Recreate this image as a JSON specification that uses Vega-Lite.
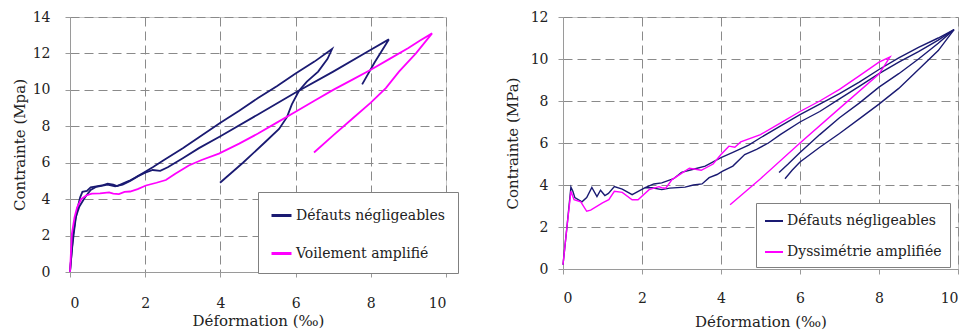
{
  "$schema": "https://vega.github.io/schema/vega-lite/v6.json",
  "padding": {"left": 11, "top": 9, "right": 0, "bottom": 0},
  "background": "white",
  "spacing": 117,
  "bounds": "flush",
  "config": {
    "font": "DejaVu Serif",
    "view": {"stroke": "#c8c8c8", "strokeWidth": 1},
    "axis": {
      "grid": true, "gridDash": [9, 5], "gridColor": "#8a8a8a", "gridOpacity": 1,
      "domainColor": "#9a9a9a", "tickColor": "#9a9a9a", "tickSize": 5,
      "labelFontSize": 14, "titleFontSize": 15, "labelColor": "#222", "titleColor": "#222",
      "titleFontWeight": "normal", "labelFont": "DejaVu Serif", "titleFont": "DejaVu Serif"
    },
    "axisX": {"labelPadding": 19, "titlePadding": 4},
    "legend": {
      "orient": "none", "strokeColor": "#808080", "fillColor": "white", "symbolType": "stroke",
      "symbolSize": 400, "symbolStrokeWidth": 2.5, "labelFontSize": 14, "labelFont": "DejaVu Serif",
      "labelColor": "#222", "labelLimit": 400, "labelOffset": 3
    }
  },
  "resolve": {"scale": {"color": "independent"}, "legend": {"color": "independent"}},
  "hconcat": [
    {
      "width": 376, "height": 255,
      "data": {"values": [
        {"s":"Défauts négligeables","g":"A","i":1,"x":0,"y":0},
        {"s":"Défauts négligeables","g":"A","i":2,"x":0.05,"y":1.2},
        {"s":"Défauts négligeables","g":"A","i":3,"x":0.1,"y":2.1},
        {"s":"Défauts négligeables","g":"A","i":4,"x":0.15,"y":2.9},
        {"s":"Défauts négligeables","g":"A","i":5,"x":0.2,"y":3.5},
        {"s":"Défauts négligeables","g":"A","i":6,"x":0.27,"y":4.1},
        {"s":"Défauts négligeables","g":"A","i":7,"x":0.33,"y":4.4},
        {"s":"Défauts négligeables","g":"A","i":8,"x":0.45,"y":4.45},
        {"s":"Défauts négligeables","g":"A","i":9,"x":0.55,"y":4.65},
        {"s":"Défauts négligeables","g":"A","i":10,"x":0.7,"y":4.7},
        {"s":"Défauts négligeables","g":"A","i":11,"x":0.85,"y":4.75},
        {"s":"Défauts négligeables","g":"A","i":12,"x":1.0,"y":4.85},
        {"s":"Défauts négligeables","g":"A","i":13,"x":1.15,"y":4.8},
        {"s":"Défauts négligeables","g":"A","i":14,"x":1.25,"y":4.72},
        {"s":"Défauts négligeables","g":"A","i":15,"x":1.4,"y":4.85},
        {"s":"Défauts négligeables","g":"A","i":16,"x":1.57,"y":5.0},
        {"s":"Défauts négligeables","g":"A","i":17,"x":1.75,"y":5.2},
        {"s":"Défauts négligeables","g":"A","i":18,"x":2.0,"y":5.5},
        {"s":"Défauts négligeables","g":"A","i":19,"x":2.2,"y":5.75},
        {"s":"Défauts négligeables","g":"A","i":20,"x":2.5,"y":6.15},
        {"s":"Défauts négligeables","g":"A","i":21,"x":3.0,"y":6.8},
        {"s":"Défauts négligeables","g":"A","i":22,"x":3.5,"y":7.5},
        {"s":"Défauts négligeables","g":"A","i":23,"x":4.0,"y":8.2},
        {"s":"Défauts négligeables","g":"A","i":24,"x":4.5,"y":8.85},
        {"s":"Défauts négligeables","g":"A","i":25,"x":5.0,"y":9.55},
        {"s":"Défauts négligeables","g":"A","i":26,"x":5.5,"y":10.2},
        {"s":"Défauts négligeables","g":"A","i":27,"x":6.0,"y":10.9},
        {"s":"Défauts négligeables","g":"A","i":28,"x":6.5,"y":11.55},
        {"s":"Défauts négligeables","g":"A","i":29,"x":6.97,"y":12.24},
        {"s":"Défauts négligeables","g":"A","i":30,"x":6.85,"y":11.7},
        {"s":"Défauts négligeables","g":"A","i":31,"x":6.6,"y":11.0},
        {"s":"Défauts négligeables","g":"A","i":32,"x":6.3,"y":10.45},
        {"s":"Défauts négligeables","g":"A","i":33,"x":6.09,"y":9.95},
        {"s":"Défauts négligeables","g":"A","i":34,"x":5.9,"y":9.2},
        {"s":"Défauts négligeables","g":"A","i":35,"x":5.77,"y":8.5},
        {"s":"Défauts négligeables","g":"A","i":36,"x":5.56,"y":7.85},
        {"s":"Défauts négligeables","g":"A","i":37,"x":5.2,"y":7.15},
        {"s":"Défauts négligeables","g":"A","i":38,"x":4.6,"y":6.0},
        {"s":"Défauts négligeables","g":"A","i":39,"x":3.99,"y":4.9},
        {"s":"Défauts négligeables","g":"B","i":1,"x":0,"y":0},
        {"s":"Défauts négligeables","g":"B","i":2,"x":0.08,"y":2.0},
        {"s":"Défauts négligeables","g":"B","i":3,"x":0.15,"y":3.0},
        {"s":"Défauts négligeables","g":"B","i":4,"x":0.25,"y":3.6},
        {"s":"Défauts négligeables","g":"B","i":5,"x":0.4,"y":4.1},
        {"s":"Défauts négligeables","g":"B","i":6,"x":0.55,"y":4.5},
        {"s":"Défauts négligeables","g":"B","i":7,"x":0.7,"y":4.68},
        {"s":"Défauts négligeables","g":"B","i":8,"x":1.0,"y":4.8},
        {"s":"Défauts négligeables","g":"B","i":9,"x":1.2,"y":4.7},
        {"s":"Défauts négligeables","g":"B","i":10,"x":1.4,"y":4.8},
        {"s":"Défauts négligeables","g":"B","i":11,"x":1.6,"y":5.0},
        {"s":"Défauts négligeables","g":"B","i":12,"x":1.8,"y":5.25},
        {"s":"Défauts négligeables","g":"B","i":13,"x":2.0,"y":5.45},
        {"s":"Défauts négligeables","g":"B","i":14,"x":2.2,"y":5.6},
        {"s":"Défauts négligeables","g":"B","i":15,"x":2.4,"y":5.55},
        {"s":"Défauts négligeables","g":"B","i":16,"x":2.6,"y":5.75},
        {"s":"Défauts négligeables","g":"B","i":17,"x":3.0,"y":6.25},
        {"s":"Défauts négligeables","g":"B","i":18,"x":3.43,"y":6.8},
        {"s":"Défauts négligeables","g":"B","i":19,"x":4.0,"y":7.45},
        {"s":"Défauts négligeables","g":"B","i":20,"x":5.0,"y":8.65},
        {"s":"Défauts négligeables","g":"B","i":21,"x":6.0,"y":9.85},
        {"s":"Défauts négligeables","g":"B","i":22,"x":7.0,"y":11.0},
        {"s":"Défauts négligeables","g":"B","i":23,"x":8.0,"y":12.2},
        {"s":"Défauts négligeables","g":"B","i":24,"x":8.48,"y":12.77},
        {"s":"Défauts négligeables","g":"B","i":25,"x":8.1,"y":11.5},
        {"s":"Défauts négligeables","g":"B","i":26,"x":7.77,"y":10.3},
        {"s":"Voilement amplifié","g":"C","i":1,"x":0,"y":0},
        {"s":"Voilement amplifié","g":"C","i":2,"x":0.05,"y":2.1},
        {"s":"Voilement amplifié","g":"C","i":3,"x":0.12,"y":3.0},
        {"s":"Voilement amplifié","g":"C","i":4,"x":0.19,"y":3.55},
        {"s":"Voilement amplifié","g":"C","i":5,"x":0.3,"y":4.0},
        {"s":"Voilement amplifié","g":"C","i":6,"x":0.43,"y":4.2},
        {"s":"Voilement amplifié","g":"C","i":7,"x":0.58,"y":4.3},
        {"s":"Voilement amplifié","g":"C","i":8,"x":0.8,"y":4.32},
        {"s":"Voilement amplifié","g":"C","i":9,"x":1.04,"y":4.37},
        {"s":"Voilement amplifié","g":"C","i":10,"x":1.15,"y":4.3},
        {"s":"Voilement amplifié","g":"C","i":11,"x":1.3,"y":4.28},
        {"s":"Voilement amplifié","g":"C","i":12,"x":1.45,"y":4.4},
        {"s":"Voilement amplifié","g":"C","i":13,"x":1.6,"y":4.42},
        {"s":"Voilement amplifié","g":"C","i":14,"x":1.8,"y":4.55},
        {"s":"Voilement amplifié","g":"C","i":15,"x":2.02,"y":4.75},
        {"s":"Voilement amplifié","g":"C","i":16,"x":2.3,"y":4.9},
        {"s":"Voilement amplifié","g":"C","i":17,"x":2.55,"y":5.05},
        {"s":"Voilement amplifié","g":"C","i":18,"x":2.8,"y":5.4},
        {"s":"Voilement amplifié","g":"C","i":19,"x":3.16,"y":5.85},
        {"s":"Voilement amplifié","g":"C","i":20,"x":3.5,"y":6.15},
        {"s":"Voilement amplifié","g":"C","i":21,"x":3.96,"y":6.5},
        {"s":"Voilement amplifié","g":"C","i":22,"x":4.5,"y":7.05},
        {"s":"Voilement amplifié","g":"C","i":23,"x":5.0,"y":7.6},
        {"s":"Voilement amplifié","g":"C","i":24,"x":5.5,"y":8.2},
        {"s":"Voilement amplifié","g":"C","i":25,"x":6.0,"y":8.8},
        {"s":"Voilement amplifié","g":"C","i":26,"x":6.5,"y":9.4},
        {"s":"Voilement amplifié","g":"C","i":27,"x":7.0,"y":10.0},
        {"s":"Voilement amplifié","g":"C","i":28,"x":7.5,"y":10.55},
        {"s":"Voilement amplifié","g":"C","i":29,"x":8.0,"y":11.1},
        {"s":"Voilement amplifié","g":"C","i":30,"x":8.5,"y":11.7},
        {"s":"Voilement amplifié","g":"C","i":31,"x":9.0,"y":12.3},
        {"s":"Voilement amplifié","g":"C","i":32,"x":9.3,"y":12.7},
        {"s":"Voilement amplifié","g":"C","i":33,"x":9.63,"y":13.1},
        {"s":"Voilement amplifié","g":"C","i":34,"x":9.2,"y":12.0},
        {"s":"Voilement amplifié","g":"C","i":35,"x":8.75,"y":11.0},
        {"s":"Voilement amplifié","g":"C","i":36,"x":8.4,"y":10.1},
        {"s":"Voilement amplifié","g":"C","i":37,"x":8.0,"y":9.3},
        {"s":"Voilement amplifié","g":"C","i":38,"x":7.5,"y":8.4},
        {"s":"Voilement amplifié","g":"C","i":39,"x":7.0,"y":7.5},
        {"s":"Voilement amplifié","g":"C","i":40,"x":6.49,"y":6.56}
      ]},
      "mark": {"type": "line", "strokeWidth": 1.8},
      "encoding": {
        "x": {"field": "x", "type": "quantitative", "scale": {"domain": [0, 10], "nice": false},
              "axis": {"values": [0, 2, 4, 6, 8, 10], "title": "Déformation (‰)", "titlePadding": 3}},
        "y": {"field": "y", "type": "quantitative", "scale": {"domain": [0, 14], "nice": false},
              "axis": {"values": [0, 2, 4, 6, 8, 10, 12, 14], "title": "Contrainte (Mpa)", "labelPadding": 15, "titlePadding": 5}},
        "color": {"field": "s", "type": "nominal",
                  "scale": {"domain": ["Défauts négligeables", "Voilement amplifié"], "range": ["#1a1a72", "#ff00ff"]},
                  "legend": {"title": null, "legendX": 188, "legendY": 175, "padding": 12, "rowPadding": 19, "symbolStrokeWidth": 3}},
        "detail": {"field": "g", "type": "nominal"},
        "order": {"field": "i", "type": "quantitative"}
      }
    },
    {
      "width": 395, "height": 252,
      "data": {"values": [
        {"s":"Défauts négligeables","g":"A","i":1,"x":0,"y":0.2},
        {"s":"Défauts négligeables","g":"A","i":2,"x":0.1,"y":2.0},
        {"s":"Défauts négligeables","g":"A","i":3,"x":0.2,"y":3.9},
        {"s":"Défauts négligeables","g":"A","i":4,"x":0.25,"y":3.7},
        {"s":"Défauts négligeables","g":"A","i":5,"x":0.3,"y":3.4},
        {"s":"Défauts négligeables","g":"A","i":6,"x":0.48,"y":3.2},
        {"s":"Défauts négligeables","g":"A","i":7,"x":0.6,"y":3.4},
        {"s":"Défauts négligeables","g":"A","i":8,"x":0.73,"y":3.88},
        {"s":"Défauts négligeables","g":"A","i":9,"x":0.86,"y":3.45},
        {"s":"Défauts négligeables","g":"A","i":10,"x":0.95,"y":3.75},
        {"s":"Défauts négligeables","g":"A","i":11,"x":1.06,"y":3.5},
        {"s":"Défauts négligeables","g":"A","i":12,"x":1.15,"y":3.6},
        {"s":"Défauts négligeables","g":"A","i":13,"x":1.3,"y":3.93},
        {"s":"Défauts négligeables","g":"A","i":14,"x":1.5,"y":3.8},
        {"s":"Défauts négligeables","g":"A","i":15,"x":1.75,"y":3.54},
        {"s":"Défauts négligeables","g":"A","i":16,"x":2.08,"y":3.87},
        {"s":"Défauts négligeables","g":"A","i":17,"x":2.3,"y":4.05},
        {"s":"Défauts négligeables","g":"A","i":18,"x":2.5,"y":4.1},
        {"s":"Défauts négligeables","g":"A","i":19,"x":2.8,"y":4.3},
        {"s":"Défauts négligeables","g":"A","i":20,"x":3.0,"y":4.6},
        {"s":"Défauts négligeables","g":"A","i":21,"x":3.3,"y":4.75},
        {"s":"Défauts négligeables","g":"A","i":22,"x":3.6,"y":4.9},
        {"s":"Défauts négligeables","g":"A","i":23,"x":4.0,"y":5.3},
        {"s":"Défauts négligeables","g":"A","i":24,"x":4.3,"y":5.55},
        {"s":"Défauts négligeables","g":"A","i":25,"x":4.7,"y":5.9},
        {"s":"Défauts négligeables","g":"A","i":26,"x":5.0,"y":6.25},
        {"s":"Défauts négligeables","g":"A","i":27,"x":5.5,"y":6.8},
        {"s":"Défauts négligeables","g":"A","i":28,"x":6.0,"y":7.35},
        {"s":"Défauts négligeables","g":"A","i":29,"x":6.5,"y":7.85},
        {"s":"Défauts négligeables","g":"A","i":30,"x":7.0,"y":8.35},
        {"s":"Défauts négligeables","g":"A","i":31,"x":7.5,"y":8.9},
        {"s":"Défauts négligeables","g":"A","i":32,"x":8.0,"y":9.5},
        {"s":"Défauts négligeables","g":"A","i":33,"x":8.5,"y":10.05},
        {"s":"Défauts négligeables","g":"A","i":34,"x":9.0,"y":10.55},
        {"s":"Défauts négligeables","g":"A","i":35,"x":9.5,"y":11.0},
        {"s":"Défauts négligeables","g":"A","i":36,"x":9.9,"y":11.4},
        {"s":"Défauts négligeables","g":"A","i":37,"x":9.5,"y":10.75},
        {"s":"Défauts négligeables","g":"A","i":38,"x":9.0,"y":10.0},
        {"s":"Défauts négligeables","g":"A","i":39,"x":8.5,"y":9.3},
        {"s":"Défauts négligeables","g":"A","i":40,"x":8.0,"y":8.66},
        {"s":"Défauts négligeables","g":"A","i":41,"x":7.5,"y":7.9},
        {"s":"Défauts négligeables","g":"A","i":42,"x":7.0,"y":7.2},
        {"s":"Défauts négligeables","g":"A","i":43,"x":6.5,"y":6.4},
        {"s":"Défauts négligeables","g":"A","i":44,"x":6.0,"y":5.55},
        {"s":"Défauts négligeables","g":"A","i":45,"x":5.7,"y":5.0},
        {"s":"Défauts négligeables","g":"A","i":46,"x":5.47,"y":4.6},
        {"s":"Défauts négligeables","g":"B","i":1,"x":2.08,"y":3.87},
        {"s":"Défauts négligeables","g":"B","i":2,"x":2.25,"y":3.87},
        {"s":"Défauts négligeables","g":"B","i":3,"x":2.5,"y":3.78},
        {"s":"Défauts négligeables","g":"B","i":4,"x":2.7,"y":3.85},
        {"s":"Défauts négligeables","g":"B","i":5,"x":3.09,"y":3.9},
        {"s":"Défauts négligeables","g":"B","i":6,"x":3.3,"y":4.0},
        {"s":"Défauts négligeables","g":"B","i":7,"x":3.52,"y":4.05},
        {"s":"Défauts négligeables","g":"B","i":8,"x":3.7,"y":4.35},
        {"s":"Défauts négligeables","g":"B","i":9,"x":3.9,"y":4.5},
        {"s":"Défauts négligeables","g":"B","i":10,"x":4.03,"y":4.65},
        {"s":"Défauts négligeables","g":"B","i":11,"x":4.3,"y":4.9},
        {"s":"Défauts négligeables","g":"B","i":12,"x":4.6,"y":5.45},
        {"s":"Défauts négligeables","g":"B","i":13,"x":4.9,"y":5.7},
        {"s":"Défauts négligeables","g":"B","i":14,"x":5.2,"y":6.0},
        {"s":"Défauts négligeables","g":"B","i":15,"x":5.5,"y":6.4},
        {"s":"Défauts négligeables","g":"B","i":16,"x":6.0,"y":7.0},
        {"s":"Défauts négligeables","g":"B","i":17,"x":6.5,"y":7.5},
        {"s":"Défauts négligeables","g":"B","i":18,"x":7.0,"y":8.1},
        {"s":"Défauts négligeables","g":"B","i":19,"x":7.5,"y":8.7},
        {"s":"Défauts négligeables","g":"B","i":20,"x":8.0,"y":9.3},
        {"s":"Défauts négligeables","g":"B","i":21,"x":8.5,"y":9.85},
        {"s":"Défauts négligeables","g":"B","i":22,"x":9.0,"y":10.35},
        {"s":"Défauts négligeables","g":"B","i":23,"x":9.5,"y":10.9},
        {"s":"Défauts négligeables","g":"B","i":24,"x":9.9,"y":11.4},
        {"s":"Défauts négligeables","g":"B","i":25,"x":9.5,"y":10.4},
        {"s":"Défauts négligeables","g":"B","i":26,"x":9.0,"y":9.5},
        {"s":"Défauts négligeables","g":"B","i":27,"x":8.5,"y":8.6},
        {"s":"Défauts négligeables","g":"B","i":28,"x":8.0,"y":7.85},
        {"s":"Défauts négligeables","g":"B","i":29,"x":7.5,"y":7.15},
        {"s":"Défauts négligeables","g":"B","i":30,"x":7.0,"y":6.45},
        {"s":"Défauts négligeables","g":"B","i":31,"x":6.5,"y":5.8},
        {"s":"Défauts négligeables","g":"B","i":32,"x":6.0,"y":5.1},
        {"s":"Défauts négligeables","g":"B","i":33,"x":5.8,"y":4.7},
        {"s":"Défauts négligeables","g":"B","i":34,"x":5.62,"y":4.3},
        {"s":"Dyssimétrie amplifiée","g":"C","i":1,"x":0,"y":0.2},
        {"s":"Dyssimétrie amplifiée","g":"C","i":2,"x":0.1,"y":2.0},
        {"s":"Dyssimétrie amplifiée","g":"C","i":3,"x":0.2,"y":3.7},
        {"s":"Dyssimétrie amplifiée","g":"C","i":4,"x":0.28,"y":3.3},
        {"s":"Dyssimétrie amplifiée","g":"C","i":5,"x":0.45,"y":3.2},
        {"s":"Dyssimétrie amplifiée","g":"C","i":6,"x":0.6,"y":2.75},
        {"s":"Dyssimétrie amplifiée","g":"C","i":7,"x":0.7,"y":2.8},
        {"s":"Dyssimétrie amplifiée","g":"C","i":8,"x":1.0,"y":3.15},
        {"s":"Dyssimétrie amplifiée","g":"C","i":9,"x":1.16,"y":3.3},
        {"s":"Dyssimétrie amplifiée","g":"C","i":10,"x":1.3,"y":3.7},
        {"s":"Dyssimétrie amplifiée","g":"C","i":11,"x":1.5,"y":3.65},
        {"s":"Dyssimétrie amplifiée","g":"C","i":12,"x":1.75,"y":3.3},
        {"s":"Dyssimétrie amplifiée","g":"C","i":13,"x":1.9,"y":3.3},
        {"s":"Dyssimétrie amplifiée","g":"C","i":14,"x":2.18,"y":3.78},
        {"s":"Dyssimétrie amplifiée","g":"C","i":15,"x":2.43,"y":3.92},
        {"s":"Dyssimétrie amplifiée","g":"C","i":16,"x":2.5,"y":3.87},
        {"s":"Dyssimétrie amplifiée","g":"C","i":17,"x":2.6,"y":3.85},
        {"s":"Dyssimétrie amplifiée","g":"C","i":18,"x":2.76,"y":4.26},
        {"s":"Dyssimétrie amplifiée","g":"C","i":19,"x":3.0,"y":4.55},
        {"s":"Dyssimétrie amplifiée","g":"C","i":20,"x":3.2,"y":4.8},
        {"s":"Dyssimétrie amplifiée","g":"C","i":21,"x":3.5,"y":4.7},
        {"s":"Dyssimétrie amplifiée","g":"C","i":22,"x":3.8,"y":5.0},
        {"s":"Dyssimétrie amplifiée","g":"C","i":23,"x":4.0,"y":5.45},
        {"s":"Dyssimétrie amplifiée","g":"C","i":24,"x":4.2,"y":5.85},
        {"s":"Dyssimétrie amplifiée","g":"C","i":25,"x":4.35,"y":5.8},
        {"s":"Dyssimétrie amplifiée","g":"C","i":26,"x":4.5,"y":6.05},
        {"s":"Dyssimétrie amplifiée","g":"C","i":27,"x":5.0,"y":6.4},
        {"s":"Dyssimétrie amplifiée","g":"C","i":28,"x":5.5,"y":6.95},
        {"s":"Dyssimétrie amplifiée","g":"C","i":29,"x":6.0,"y":7.5},
        {"s":"Dyssimétrie amplifiée","g":"C","i":30,"x":6.5,"y":8.0},
        {"s":"Dyssimétrie amplifiée","g":"C","i":31,"x":7.0,"y":8.55},
        {"s":"Dyssimétrie amplifiée","g":"C","i":32,"x":7.5,"y":9.2},
        {"s":"Dyssimétrie amplifiée","g":"C","i":33,"x":8.0,"y":9.85},
        {"s":"Dyssimétrie amplifiée","g":"C","i":34,"x":8.28,"y":10.1},
        {"s":"Dyssimétrie amplifiée","g":"C","i":35,"x":8.0,"y":9.28},
        {"s":"Dyssimétrie amplifiée","g":"C","i":36,"x":7.0,"y":7.65},
        {"s":"Dyssimétrie amplifiée","g":"C","i":37,"x":6.0,"y":6.0},
        {"s":"Dyssimétrie amplifiée","g":"C","i":38,"x":5.0,"y":4.3},
        {"s":"Dyssimétrie amplifiée","g":"C","i":39,"x":4.23,"y":3.06}
      ]},
      "mark": {"type": "line", "strokeWidth": 1.4},
      "encoding": {
        "x": {"field": "x", "type": "quantitative", "scale": {"domain": [0, 10], "nice": false},
              "axis": {"values": [0, 2, 4, 6, 8, 10], "title": "Déformation (‰)", "labelPadding": 17, "titlePadding": 9}},
        "y": {"field": "y", "type": "quantitative", "scale": {"domain": [0, 12], "nice": false},
              "axis": {"values": [0, 2, 4, 6, 8, 10, 12], "title": "Contrainte (MPa)", "labelPadding": 10, "titlePadding": 10}},
        "color": {"field": "s", "type": "nominal",
                  "scale": {"domain": ["Défauts négligeables", "Dyssimétrie amplifiée"], "range": ["#1a1a72", "#ff00ff"]},
                  "legend": {"title": null, "legendX": 193, "legendY": 186, "padding": 8, "rowPadding": 14, "symbolSize": 324, "symbolStrokeWidth": 2}},
        "detail": {"field": "g", "type": "nominal"},
        "order": {"field": "i", "type": "quantitative"}
      }
    }
  ]
}
